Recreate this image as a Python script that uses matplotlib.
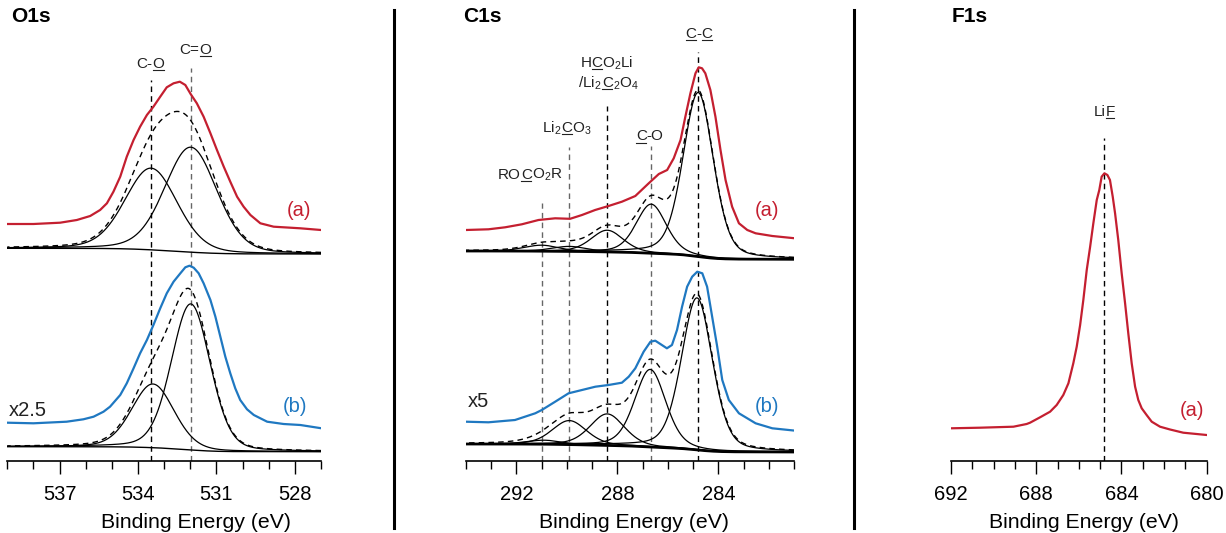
import numpy as np
import matplotlib.pyplot as plt
from matplotlib.lines import Line2D
from matplotlib.transforms import IdentityTransform

plt.rcParams['font.family'] = ['Liberation Sans', 'DejaVu Sans']
plt.rcParams['mathtext.default'] = 'regular'

RED = '#c41f30'
BLUE = '#1f78c1'
GREY = '#666666'
TXT = '#222222'

# ---------------- O1s ----------------
o1s_a_energy = [539.0, 538.0, 536.98, 536.34, 535.83, 535.45, 535.19, 534.94, 534.68, 534.43,
                534.17, 533.92, 533.66, 533.41, 533.15, 532.90, 532.64, 532.40, 532.19, 531.98,
                531.75, 531.49, 531.23, 530.98, 530.72, 530.47, 530.21, 529.96, 529.70, 529.32,
                528.81, 527.79, 527.0]
o1s_a_counts = [237, 237, 238.3, 241, 245, 251, 257.7, 269.3, 284.3, 304.3,
                321, 334.3, 346, 354.3, 364.3, 373.7, 377.7, 379.3, 376, 366.7,
                357.7, 344.3, 327.7, 311, 294.3, 279.3, 264.3, 254.3, 246, 237.7,
                234.3, 232.7, 231]
o1s_b_energy = [539.0, 538.0, 536.73, 536.09, 535.70, 535.32, 535.07, 534.68, 534.43, 534.17,
                533.92, 533.66, 533.41, 533.15, 532.90, 532.64, 532.38, 532.19, 532.03, 531.87,
                531.68, 531.49, 531.23, 531.04, 530.85, 530.66, 530.47, 530.28, 530.09, 529.83,
                529.57, 529.32, 529.06, 528.43, 527.79, 526.98]
o1s_b_counts = [38.3, 37.7, 39.3, 41.7, 44.3, 49.3, 54.3, 66, 77.7, 92.7,
                107.7, 121, 136, 152.7, 167.7, 179.3, 187.7, 193.7, 195.3, 193.3,
                187.7, 177.7, 161, 144.3, 124.3, 104.3, 87.7, 72.7, 61, 51.7,
                46, 42.7, 39.3, 37, 36, 32.7]
# fitted components: centre (eV), height, FWHM (eV)
o1s_a_center = [533.5, 531.98]
o1s_a_height = [81.7, 105]
o1s_a_fwhm = [2.35, 2.35]
o1s_b_center = [533.43, 531.98]
o1s_b_height = [63.7, 146]
o1s_b_fwhm = [1.9, 1.75]
o1s_bg_a = (212.7, 207)   # high-BE side, low-BE side
o1s_bg_b = (14.3, 9.3)
o1s_marks = [533.5, 531.98]
o1s_mark_top = [381, 393]
o1s_mark_color = ['black', GREY]
# label pieces: (text, underlined)
o1s_labels = [[('C-', False), ('O', True)],
              [('C=', False), ('O', True)]]
o1s_label_x = [533.53, 531.81]
o1s_label_y = [399, 413]

# ---------------- C1s ----------------
c1s_a_energy = [294.0, 293.10, 292.44, 291.78, 291.12, 290.46, 289.87, 289.40, 288.88, 288.35,
                287.82, 287.29, 286.76, 286.36, 286.03, 285.77, 285.50, 285.31, 285.11, 284.91,
                284.78, 284.65, 284.52, 284.32, 284.12, 283.92, 283.72, 283.46, 283.19, 282.86,
                282.53, 281.87, 280.97]
c1s_a_counts = [231, 231.7, 233.7, 236.7, 241, 242.7, 242.2, 246, 251, 255,
                259.3, 265, 277.7, 287, 291, 302.7, 321, 344.3, 367.7, 387.7,
                393.7, 392.7, 387.7, 371, 344.3, 311, 281, 254.3, 237.7, 231,
                227.7, 225, 222.7]
c1s_b_energy = [294.0, 293.10, 292.05, 291.25, 290.99, 290.46, 289.93, 289.40, 288.87, 288.35,
                287.82, 287.55, 287.29, 286.96, 286.69, 286.50, 286.30, 286.04, 285.84, 285.64,
                285.44, 285.24, 285.04, 284.84, 284.64, 284.45, 284.25, 284.05, 283.85, 283.59,
                283.19, 282.53, 281.87, 280.95]
c1s_b_counts = [39.3, 38.7, 41, 47.7, 51, 59.3, 67.7, 71, 74.3, 76,
                78.3, 84.3, 92.7, 109.3, 119.3, 120.3, 117, 112.7, 116, 131,
                154.3, 174.3, 184.3, 189.3, 187.7, 174.3, 144.3, 114.3, 81, 61,
                47.7, 37.7, 32.7, 30.3]
c1s_a_center = [291.0, 289.9, 288.4, 286.66, 284.8]
c1s_a_height = [6, 5, 21.7, 49, 164]
c1s_a_fwhm = [1.6, 1.6, 1.5, 1.4, 1.42]
c1s_b_center = [290.9, 289.9, 288.4, 286.7, 284.85]
c1s_b_height = [4, 24, 31.5, 77.5, 152]
c1s_b_fwhm = [1.6, 1.6, 1.6, 1.45, 1.45]
c1s_bg_a = (210, 201.7)
c1s_bg_b = (17, 9)
c1s_marks = [291.0, 289.9, 288.4, 286.66, 284.8]
c1s_mark_top = [258, 314, 355, 315, 409]
c1s_mark_color = [GREY, GREY, 'black', GREY, 'black']
c1s_labels = [[('RO', False), ('C', True), ('O$_2$R', False)],
              [('Li$_2$', False), ('C', True), ('O$_3$', False)],
              [('H', False), ('C', True), ('O$_2$Li', False)],
              [('/Li$_2$', False), ('C', True), ('$_2$O$_4$', False)],
              [('C', True), ('-O', False)],
              [('C', True), ('-', False), ('C', True)]]
c1s_label_x = [291.45, 290.0, 288.41, 288.35, 286.72, 284.78]
c1s_label_y = [287.7, 334.3, 399.3, 379.3, 326, 428.7]

# ---------------- F1s ----------------
f1s_energy = [692.0, 690.64, 689.07, 688.45, 688.29, 687.82, 687.35, 687.04, 686.73, 686.49,
              686.26, 686.10, 685.94, 685.79, 685.63, 685.47, 685.32, 685.16, 685.04, 684.93,
              684.80, 684.66, 684.54, 684.41, 684.30, 684.15, 683.99, 683.83, 683.68, 683.52,
              683.36, 683.21, 683.05, 682.82, 682.58, 682.19, 681.72, 681.1, 680.0]
f1s_counts = [32.7, 33.3, 34.3, 37, 38.3, 43.7, 49.3, 56, 66, 77.7,
              97.7, 114.3, 136, 161, 191, 214.3, 237.7, 261, 271, 284.3,
              287.7, 286, 281, 264.3, 247.7, 221, 187.7, 157.7, 127.7, 97.7,
              74.3, 61, 52.7, 46, 39.3, 34.3, 31.5, 28.3, 26]
f1s_marks = [684.8]
f1s_mark_top = [323]
f1s_labels = [[('Li', False), ('F', True)]]
f1s_label_x = [684.8]
f1s_label_y = [350.5]


def gl(e, c, h, w, m):
    x = (e - c) / w
    return h * ((1 - m) * np.exp(-4 * np.log(2) * x ** 2) + m / (1 + 4 * x ** 2))


def draw_fit(ax, lo, hi, centers, heights, fwhms, bg, m, bg_lw):
    e = np.linspace(lo, hi, 800)
    comps = [gl(e, c, h, w, m) for c, h, w in zip(centers, heights, fwhms)]
    total = np.sum(comps, axis=0)
    # Shirley type step background
    cum = np.concatenate([[0], np.cumsum((total[1:] + total[:-1]) / 2 * np.diff(e))])
    back = bg[1] + (bg[0] - bg[1]) * cum / cum[-1]
    for comp in comps:
        ax.plot(e, back + comp, color='black', lw=0.9)
    ax.plot(e, back + total, color='black', lw=1.0, ls=(0, (4, 3)))
    ax.plot(e, back, color='black', lw=bg_lw)


def setup(ax, xlim, major, minor, label_x):
    ax.set_xlim(*xlim)
    ax.set_ylim(0, 461)
    for s in ['left', 'right', 'top']:
        ax.spines[s].set_visible(False)
    ax.spines['bottom'].set_linewidth(1.2)
    ax.yaxis.set_visible(False)
    ax.set_xticks(major)
    ax.set_xticks(minor, minor=True)
    ax.tick_params(axis='x', which='major', length=9, width=1.0, labelsize=14.5, pad=8)
    ax.tick_params(axis='x', which='minor', length=5.5, width=1.0)
    ax.set_xlabel('Binding Energy (eV)', fontsize=15.3, labelpad=7)
    ax.xaxis.label.set_x(label_x)
    ax.patch.set_visible(False)


def rich_label(ax, x, y, parts, size=11):
    # mathtext has no \underline, so lay the pieces out by hand
    renderer = fig.canvas.get_renderer()
    px, py = ax.transData.transform((x, y))
    texts, widths = [], []
    for s, u in parts:
        t = fig.text(0, 0, s, fontsize=size, color=TXT, ha='left', va='baseline',
                     transform=IdentityTransform())
        widths.append(t.get_window_extent(renderer).width)
        texts.append(t)
    x0 = px - sum(widths) / 2
    base = py - 0.36 * size * 100 / 72
    for t, w, (s, u) in zip(texts, widths, parts):
        t.set_position((x0, base))
        if u:
            fig.add_artist(Line2D([x0 + 0.5, x0 + w - 0.5], [base - 2.2, base - 2.2],
                                  transform=IdentityTransform(), color=TXT, lw=0.8))
        x0 += w


fig = plt.figure(figsize=(12.26, 5.33), dpi=100)
W, H = 1226, 533
ax1 = fig.add_axes([7.3 / W, 1 - 461 / H, 313.7 / W, 461 / H])
ax2 = fig.add_axes([465.7 / W, 1 - 461 / H, 328.6 / W, 461 / H])
ax3 = fig.add_axes([951 / W, 1 - 461 / H, 255.7 / W, 461 / H])

# O1s
setup(ax1, (539, 527), [537, 534, 531, 528], np.arange(527, 540), 0.60)
ax1.vlines(o1s_marks, 0, o1s_mark_top, colors=o1s_mark_color, lw=1.0, linestyles=[(0, (4, 3))])
draw_fit(ax1, 527, 539, o1s_a_center, o1s_a_height, o1s_a_fwhm, o1s_bg_a, 0.2, 1.0)
draw_fit(ax1, 527, 539, o1s_b_center, o1s_b_height, o1s_b_fwhm, o1s_bg_b, 0.2, 1.0)
ax1.plot(o1s_a_energy, o1s_a_counts, color=RED, lw=1.6)
ax1.plot(o1s_b_energy, o1s_b_counts, color=BLUE, lw=1.6)
for parts, x, y in zip(o1s_labels, o1s_label_x, o1s_label_y):
    rich_label(ax1, x, y, parts)
ax1.text(527.86, 251, '(a)', color=RED, fontsize=14.5, ha='center', va='center')
ax1.text(527.98, 54.3, '(b)', color=BLUE, fontsize=14.5, ha='center', va='center')
ax1.text(538.95, 51, 'x2.5', color=TXT, fontsize=14.5, ha='left', va='center')

# C1s
setup(ax2, (294, 281), [292, 288, 284], np.arange(281, 295), 0.512)
ax2.vlines(c1s_marks, 0, c1s_mark_top, colors=c1s_mark_color, lw=1.0, linestyles=[(0, (4, 3))])
draw_fit(ax2, 281, 294, c1s_a_center, c1s_a_height, c1s_a_fwhm, c1s_bg_a, 0.3, 2.0)
draw_fit(ax2, 281, 294, c1s_b_center, c1s_b_height, c1s_b_fwhm, c1s_bg_b, 0.3, 2.0)
ax2.plot(c1s_a_energy, c1s_a_counts, color=RED, lw=1.6)
ax2.plot(c1s_b_energy, c1s_b_counts, color=BLUE, lw=1.6)
for parts, x, y in zip(c1s_labels, c1s_label_x, c1s_label_y):
    rich_label(ax2, x, y, parts)
ax2.text(282.07, 251, '(a)', color=RED, fontsize=14.5, ha='center', va='center')
ax2.text(282.07, 54.3, '(b)', color=BLUE, fontsize=14.5, ha='center', va='center')
ax2.text(293.9, 59.3, 'x5', color=TXT, fontsize=14.5, ha='left', va='center')

# F1s
setup(ax3, (692, 680), [692, 688, 684, 680], np.arange(680, 693), 0.52)
ax3.vlines(f1s_marks, 0, f1s_mark_top, colors='black', lw=1.0, linestyles=[(0, (4, 3))])
ax3.plot(f1s_energy, f1s_counts, color=RED, lw=1.6)
for parts, x, y in zip(f1s_labels, f1s_label_x, f1s_label_y):
    rich_label(ax3, x, y, parts)
ax3.text(680.7, 51, '(a)', color=RED, fontsize=14.5, ha='center', va='center')

# panel titles and separators
for x, t in [(11, 'O1s'), (463, 'C1s'), (952, 'F1s')]:
    fig.text(x / W, 1 - 16 / H, t, fontsize=15, fontweight='bold', ha='left', va='center')
for x in [393.5, 854]:
    fig.add_artist(Line2D([x / W, x / W], [1 - 10 / H, 1 - 528 / H], transform=fig.transFigure,
                          color='black', lw=2.2))

fig.savefig('out.png', dpi=100)
